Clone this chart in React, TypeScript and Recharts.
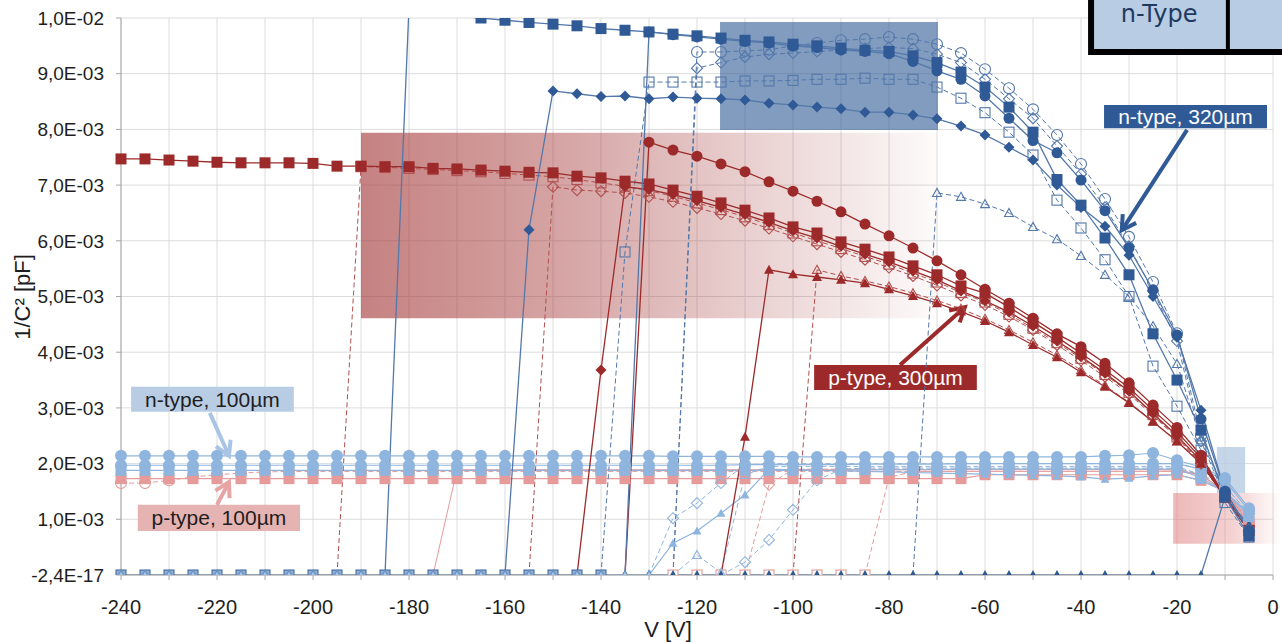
import React from 'react';
import { LineChart, Line, XAxis, YAxis, CartesianGrid, ReferenceArea, ReferenceLine } from 'recharts';

// ---------- categories / ticks ----------
const voltages = [-240, -235, -230, -225, -220, -215, -210, -205, -200, -195, -190, -185, -180, -175, -170, -165, -160, -155, -150, -145, -140, -135, -130, -125, -120, -115, -110, -105, -100, -95, -90, -85, -80, -75, -70, -65, -60, -55, -50, -45, -40, -35, -30, -25, -20, -15, -10, -5];
const xTicks = [-240, -230, -220, -210, -200, -190, -180, -170, -160, -150, -140, -130, -120, -110, -100, -90, -80, -70, -60, -50, -40, -30, -20, -10, 0];
const yTicks = [0, 0.001, 0.002, 0.003, 0.004, 0.005, 0.006, 0.007, 0.008, 0.009, 0.01];
const yTickLabels = ['-2,4E-17', '1,0E-03', '2,0E-03', '3,0E-03', '4,0E-03', '5,0E-03', '6,0E-03', '7,0E-03', '8,0E-03', '9,0E-03', '1,0E-02'];

// ---------- series values (each list ends at -5 V, aligned to the right of `voltages`) ----------
// n-type 320um
const n320SquaresA = [0, 0.0102, 0.01008, 0.01003, 0.0100, 0.00996, 0.00992, 0.00989, 0.00986, 0.00981, 0.00978, 0.00975, 0.00971, 0.00968, 0.00964, 0.0096, 0.00957, 0.00953, 0.0095, 0.00946, 0.00942, 0.0094, 0.00932, 0.0092, 0.00903, 0.00876, 0.0084, 0.00795, 0.0071, 0.00664, 0.00605, 0.00539, 0.00433, 0.0035, 0.0026, 0.0014, 0.0007];
const n320Diamonds = [0, 0.0062, 0.00869, 0.00864, 0.00859, 0.0086, 0.00855, 0.00858, 0.00856, 0.00855, 0.00853, 0.00847, 0.00844, 0.0084, 0.00837, 0.00831, 0.00831, 0.00826, 0.00819, 0.00806, 0.0079, 0.00768, 0.00745, 0.0070, 0.0066, 0.00626, 0.00574, 0.0050, 0.00427, 0.00296, 0.0015, 0.0008];
const n320Circles = [0, 0.00975, 0.0097, 0.00966, 0.00962, 0.00958, 0.00955, 0.0095, 0.00947, 0.00943, 0.0094, 0.00936, 0.00922, 0.00905, 0.0089, 0.0086, 0.0082, 0.0078, 0.00758, 0.00709, 0.00654, 0.00587, 0.00512, 0.00431, 0.0028, 0.0015, 0.0008];
const n320OpenCircles = [0, 0.00939, 0.00939, 0.00941, 0.00943, 0.0095, 0.00955, 0.0096, 0.00962, 0.00966, 0.00962, 0.00953, 0.00937, 0.00908, 0.00874, 0.00836, 0.0079, 0.00738, 0.00675, 0.00607, 0.00526, 0.00434, 0.0025, 0.0015, 0.0008];
const n320OpenDiamonds = [0, 0.0091, 0.0092, 0.0093, 0.00935, 0.00937, 0.0094, 0.00942, 0.00945, 0.00947, 0.00945, 0.00935, 0.0092, 0.0089, 0.00855, 0.0082, 0.0077, 0.0072, 0.0066, 0.0059, 0.0051, 0.0042, 0.0024, 0.0014, 0.0008];
const n320OpenSquares = [0, 0, 0, 0, 0, 0, 0, 0, 0, 0, 0, 0, 0, 0, 0, 0, 0, 0, 0, 0, 0, 0.0058, 0.00885, 0.00885, 0.00885, 0.00885, 0.00887, 0.00887, 0.00888, 0.0089, 0.0089, 0.00892, 0.0089, 0.0089, 0.00876, 0.00856, 0.0083, 0.00795, 0.00754, 0.00673, 0.00623, 0.00566, 0.005, 0.00375, 0.00303, 0.00224, 0.0013, 0.00068];
const n320OpenTriangles = [0, 0.00686, 0.00679, 0.00666, 0.0065, 0.00625, 0.00603, 0.00573, 0.00539, 0.005, 0.00447, 0.00379, 0.00242, 0.0015, 0.0008];
const n320Triangles = [0, 0, 0, 0, 0, 0, 0, 0, 0, 0, 0, 0, 0, 0, 0, 0, 0, 0, 0, 0, 0, 0, 0, 0, 0, 0, 0, 0, 0, 0, 0, 0, 0, 0, 0, 0, 0, 0, 0, 0, 0, 0, 0, 0, 0, 0, 0.0014, 0.0009];
// p-type 300um
const p300Squares = [0.00747, 0.00747, 0.00745, 0.00743, 0.00741, 0.0074, 0.0074, 0.0074, 0.00739, 0.00734, 0.00734, 0.00733, 0.00733, 0.0073, 0.00729, 0.00727, 0.00725, 0.00723, 0.00722, 0.00716, 0.00713, 0.00707, 0.00702, 0.00691, 0.0068, 0.00668, 0.00655, 0.00641, 0.00625, 0.00614, 0.00598, 0.00585, 0.00571, 0.00555, 0.00539, 0.00519, 0.00506, 0.00481, 0.00454, 0.00427, 0.00398, 0.00368, 0.00336, 0.00296, 0.00257, 0.0021, 0.0014, 0.0008];
const p300OpenSquares = [0, 0.00733, 0.00732, 0.0073, 0.00728, 0.00726, 0.00724, 0.00721, 0.00718, 0.00715, 0.0071, 0.00704, 0.00698, 0.0069, 0.0068, 0.00668, 0.00656, 0.00643, 0.00629, 0.00614, 0.006, 0.00586, 0.00572, 0.00558, 0.00542, 0.00526, 0.00507, 0.0049, 0.00468, 0.00443, 0.00417, 0.00389, 0.0036, 0.00328, 0.00288, 0.00248, 0.00202, 0.0014, 0.0008];
const p300OpenDiamonds = [0, 0.00697, 0.00691, 0.00689, 0.00686, 0.00679, 0.0067, 0.00659, 0.00648, 0.00636, 0.00622, 0.00608, 0.00594, 0.0058, 0.00566, 0.00552, 0.00537, 0.0052, 0.00502, 0.00485, 0.00464, 0.0044, 0.00413, 0.00385, 0.00356, 0.00325, 0.00286, 0.00246, 0.002, 0.0014, 0.00078];
const p300Diamonds = [0, 0.00368, 0.00697, 0.00692, 0.00683, 0.00672, 0.0066, 0.00647, 0.00633, 0.00618, 0.00605, 0.0059, 0.00576, 0.00562, 0.00546, 0.0053, 0.0051, 0.00492, 0.00472, 0.00447, 0.0042, 0.00392, 0.00362, 0.0033, 0.0029, 0.0025, 0.00205, 0.0014, 0.0008];
const p300Circles = [0, 0.00777, 0.00763, 0.00752, 0.00738, 0.00724, 0.00706, 0.00689, 0.00671, 0.00652, 0.0063, 0.00609, 0.00587, 0.00564, 0.00539, 0.00513, 0.00488, 0.00461, 0.00433, 0.0041, 0.0038, 0.00345, 0.00305, 0.00265, 0.00215, 0.0014, 0.0008];
const p300Triangles = [0, 0.00248, 0.00548, 0.0054, 0.00535, 0.0053, 0.00524, 0.00513, 0.00501, 0.00488, 0.00473, 0.00456, 0.00436, 0.00413, 0.00391, 0.00364, 0.00338, 0.00309, 0.00275, 0.0024, 0.002, 0.0014, 0.0008];
const p300OpenTriangles = [0, 0.00548, 0.00537, 0.00528, 0.00518, 0.00506, 0.00493, 0.00478, 0.0046, 0.0044, 0.00418, 0.00395, 0.00368, 0.0034, 0.0031, 0.00276, 0.0024, 0.002, 0.0014, 0.0008];
// n-type 100um
const n100CirclesA = [0.00214, 0.00214, 0.00214, 0.00214, 0.00214, 0.00214, 0.00214, 0.00214, 0.00214, 0.00214, 0.00214, 0.00214, 0.00214, 0.00214, 0.00214, 0.00214, 0.00214, 0.00214, 0.00214, 0.00214, 0.00214, 0.00214, 0.00214, 0.00213, 0.00213, 0.00213, 0.00213, 0.00213, 0.00212, 0.00212, 0.00212, 0.00212, 0.00212, 0.00212, 0.00212, 0.00212, 0.00212, 0.00212, 0.00212, 0.00212, 0.00212, 0.00214, 0.00215, 0.00219, 0.00206, 0.00194, 0.00174, 0.0012];
const n100CirclesB = [0.00197, 0.00197, 0.00197, 0.00197, 0.00197, 0.00197, 0.00197, 0.00197, 0.00197, 0.00197, 0.00197, 0.00197, 0.00197, 0.00197, 0.00197, 0.00197, 0.00197, 0.00197, 0.00197, 0.00197, 0.00197, 0.00197, 0.00197, 0.00197, 0.00197, 0.00197, 0.00198, 0.00198, 0.00198, 0.00198, 0.00198, 0.00199, 0.00199, 0.00199, 0.00199, 0.002, 0.002, 0.002, 0.002, 0.002, 0.002, 0.002, 0.002, 0.002, 0.002, 0.0019, 0.0017, 0.00115];
const n100Squares = [0.00188, 0.00188, 0.00188, 0.00188, 0.00188, 0.00188, 0.00188, 0.00188, 0.00188, 0.00188, 0.00188, 0.00188, 0.00188, 0.00188, 0.00188, 0.00188, 0.00188, 0.00188, 0.00188, 0.00188, 0.00188, 0.00188, 0.00188, 0.00188, 0.00188, 0.00188, 0.00188, 0.00188, 0.00188, 0.00188, 0.00188, 0.00189, 0.00189, 0.00189, 0.00189, 0.0019, 0.0019, 0.0019, 0.0019, 0.0019, 0.0019, 0.0019, 0.0019, 0.0019, 0.0019, 0.00175, 0.0015, 0.00105];
const n100Triangles = [0, 0, 0, 0, 0, 0, 0, 0, 0, 0, 0, 0, 0, 0, 0, 0, 0, 0, 0, 0, 0, 0, 0, 0.00057, 0.00079, 0.00111, 0.00144, 0.0019, 0.00189, 0.00188, 0.00187, 0.00186, 0.00185, 0.00184, 0.00183, 0.00182, 0.00181, 0.0018, 0.00179, 0.00178, 0.00176, 0.00172, 0.00174, 0.00178, 0.0018, 0.0017, 0.0015, 0.0011];
const n100OpenDiamondsA = [0, 0.00102, 0.00129, 0.00165, 0.00198, 0.002, 0.002, 0.002, 0.002, 0.002, 0.002, 0.002, 0.002, 0.002, 0.002, 0.002, 0.002, 0.002, 0.002, 0.002, 0.002, 0.002, 0.002, 0.0019, 0.0016, 0.0011];
const n100OpenTriangles = [0, 0.00036, 0.00004, 0.0018, 0.00195, 0.00195, 0.00195, 0.00195, 0.00195, 0.00195, 0.00195, 0.00195, 0.00195, 0.00195, 0.00195, 0.00195, 0.00195, 0.00195, 0.00195, 0.00195, 0.00195, 0.00195, 0.0018, 0.0016, 0.0011];
const n100OpenDiamondsB = [0, 0.00023, 0.00063, 0.00117, 0.0017, 0.0019, 0.00192, 0.00192, 0.00192, 0.00192, 0.00192, 0.00192, 0.00192, 0.00192, 0.00192, 0.00192, 0.00192, 0.00192, 0.00192, 0.00192, 0.0018, 0.0016, 0.0011];
// p-type 100um
const p100Squares = [0.00173, 0.00173, 0.00173, 0.00173, 0.00173, 0.00173, 0.00173, 0.00173, 0.00173, 0.00173, 0.00173, 0.00173, 0.00173, 0.00173, 0.00173, 0.00173, 0.00173, 0.00173, 0.00173, 0.00173, 0.00173, 0.00173, 0.00173, 0.00173, 0.00173, 0.00173, 0.00173, 0.00173, 0.00173, 0.00173, 0.00173, 0.00173, 0.00173, 0.00173, 0.00173, 0.00173, 0.0018, 0.0018, 0.0018, 0.0018, 0.0018, 0.0018, 0.0018, 0.0018, 0.0018, 0.0017, 0.0015, 0.00095];
const p100OpenCircles = [0.00165, 0.00165, 0.0017, 0.00176, 0.0018, 0.00183, 0.00185, 0.00186, 0.00186, 0.00186, 0.00186, 0.00186, 0.00186, 0.00186, 0.00186, 0.00186, 0.00186, 0.00186, 0.00186, 0.00186, 0.00186, 0.00186, 0.00186, 0.00186, 0.00186, 0.00186, 0.00186, 0.00186, 0.00186, 0.00186, 0.00186, 0.00186, 0.00186, 0.00186, 0.00186, 0.00186, 0.00186, 0.00186, 0.00186, 0.00186, 0.00186, 0.00186, 0.00186, 0.00186, 0.00186, 0.0018, 0.0015, 0.0009];
const p100Plain = [0, 0.00189, 0.00189, 0.00189, 0.00189, 0.00189, 0.00189, 0.00189, 0.00189, 0.00189, 0.00189, 0.00189, 0.00189, 0.00189, 0.00189, 0.00189, 0.00189, 0.00189, 0.00189, 0.00189, 0.00189, 0.00189, 0.00189, 0.00189, 0.00189, 0.00189, 0.00189, 0.00189, 0.00189, 0.00189, 0.00189, 0.00188, 0.0018, 0.0015, 0.001];
const p100OpenDiamonds = [0, 0.00162, 0.0019, 0.0019, 0.0019, 0.0019, 0.0019, 0.0019, 0.0019, 0.0019, 0.0019, 0.0019, 0.0019, 0.0019, 0.0019, 0.0019, 0.0019, 0.0019, 0.0019, 0.0018, 0.0015, 0.00095];
const p100OpenSquares = [0, 0, 0, 0, 0, 0, 0, 0, 0, 0.00175, 0.00186, 0.00186, 0.00186, 0.00186, 0.00186, 0.00186, 0.00186, 0.00186, 0.00186, 0.00186, 0.00186, 0.00186, 0.0018, 0.0015, 0.0009];

// ---------- styles ----------
const DB = '#2f5a96';
const DB_OPEN = '#5378aa';
const DR = '#9c2a2a';
const DR_OPEN = '#b24f4f';
const LB = '#8fb5de';
const PK = '#e69a9a';
const FONT = '"Liberation Sans", Arial, sans-serif';

type Shape = 'square' | 'circle' | 'diamond' | 'triangle' | 'none';
interface Series { key: string; values: number[]; color: string; lineColor: string; dashed: boolean; shape: Shape; filled: boolean; size: number; width: number; showZero: boolean; zeroFill?: string; zeroStroke?: string; }

const mk = (key: string, values: number[], color: string, lineColor: string, dashed: boolean, shape: Shape, filled: boolean, size: number, width: number, showZero = false, zeroFill?: string, zeroStroke?: string): Series =>
  ({ key, values, color, lineColor, dashed, shape, filled, size, width, showZero, zeroFill, zeroStroke });

const series: Series[] = [
  // p-type 100um
  mk('p100Plain', p100Plain, PK, PK, false, 'none', true, 0, 1),
  mk('p100OpenCircles', p100OpenCircles, PK, PK, true, 'circle', false, 11, 1),
  mk('p100OpenDiamonds', p100OpenDiamonds, PK, PK, true, 'diamond', false, 11, 1),
  mk('p100Squares', p100Squares, PK, PK, false, 'square', true, 11, 1.2),
  // n-type 320um zero-row base
  mk('n320OpenSquares', n320OpenSquares, DB_OPEN, DB_OPEN, true, 'square', false, 10, 1, true, '#8aaed8', '#4a6c9c'),
  mk('p100OpenSquares', p100OpenSquares, PK, PK, true, 'square', false, 10, 1, true, '#ffffff', '#e49a9a'),
  mk('n320Triangles', n320Triangles, DB, DB_OPEN, false, 'triangle', true, 10, 1.3, true),
  // n-type 100um
  mk('n100OpenDiamondsA', n100OpenDiamondsA, LB, LB, true, 'diamond', false, 11, 1),
  mk('n100OpenTriangles', n100OpenTriangles, LB, LB, true, 'triangle', false, 9, 1),
  mk('n100OpenDiamondsB', n100OpenDiamondsB, LB, LB, true, 'diamond', false, 11, 1),
  mk('n100Squares', n100Squares, LB, LB, false, 'square', true, 11, 1.2),
  mk('n100CirclesB', n100CirclesB, LB, LB, false, 'circle', true, 12, 1.2),
  mk('n100CirclesA', n100CirclesA, LB, LB, false, 'circle', true, 12, 1.2),
  mk('n100Triangles', n100Triangles, LB, LB, false, 'triangle', true, 9, 1.2, true, '#a7c6e8', '#6f93c0'),
  // p-type 300um
  mk('p300OpenSquares', p300OpenSquares, DR_OPEN, DR_OPEN, true, 'square', false, 10, 1),
  mk('p300OpenDiamonds', p300OpenDiamonds, DR_OPEN, DR_OPEN, true, 'diamond', false, 11, 1),
  mk('p300OpenTriangles', p300OpenTriangles, DR_OPEN, DR_OPEN, true, 'triangle', false, 9, 1),
  mk('p300Triangles', p300Triangles, DR, DR, false, 'triangle', true, 10, 1.3),
  mk('p300Diamonds', p300Diamonds, DR, DR, false, 'diamond', true, 11, 1.3),
  mk('p300Squares', p300Squares, DR, DR, false, 'square', true, 11, 1.3),
  mk('p300Circles', p300Circles, DR, DR, false, 'circle', true, 11, 1.3),
  // n-type 320um
  mk('n320OpenTriangles', n320OpenTriangles, DB_OPEN, DB_OPEN, true, 'triangle', false, 9, 1),
  mk('n320OpenDiamonds', n320OpenDiamonds, DB_OPEN, DB_OPEN, true, 'diamond', false, 11, 1),
  mk('n320OpenCircles', n320OpenCircles, DB_OPEN, DB_OPEN, true, 'circle', false, 11, 1),
  mk('n320Diamonds', n320Diamonds, DB, DB_OPEN, false, 'diamond', true, 11, 1.3),
  mk('n320Circles', n320Circles, DB, DB_OPEN, false, 'circle', true, 11, 1.3),
  mk('n320SquaresA', n320SquaresA, DB, DB_OPEN, false, 'square', true, 11, 1.3),
];

const rows = voltages.map((v, i) => {
  const row: Record<string, number> = { v };
  series.forEach((s) => {
    const off = voltages.length - s.values.length;
    if (i >= off) row[s.key] = s.values[i - off];
  });
  return row;
});

const makeDot = (s: Series) => (p: any) => {
  const { cx, cy, index, payload } = p;
  const val = payload ? payload[s.key] : undefined;
  const k = `${s.key}-${index}`;
  if (s.shape === 'none' || cx == null || cy == null || val == null || (val === 0 && !s.showZero) || val > 0.01) return <g key={k} />;
  const h = s.size / 2;
  const zero = val === 0;
  let fill = s.filled ? s.color : 'none';
  let stroke = s.color;
  let sw = s.filled ? 0 : 1.1;
  if (zero && s.zeroFill) { fill = s.zeroFill; stroke = s.zeroStroke || s.color; sw = 1.1; }
  if (s.shape === 'square') return <rect key={k} x={cx - h} y={cy - h} width={s.size} height={s.size} fill={fill} stroke={stroke} strokeWidth={sw} />;
  if (s.shape === 'circle') return <circle key={k} cx={cx} cy={cy} r={h} fill={fill} stroke={stroke} strokeWidth={sw} />;
  if (s.shape === 'diamond') return <polygon key={k} points={`${cx},${cy - h} ${cx + h},${cy} ${cx},${cy + h} ${cx - h},${cy}`} fill={fill} stroke={stroke} strokeWidth={sw} />;
  return <polygon key={k} points={`${cx},${cy - h} ${cx + h},${cy + h * 0.8} ${cx - h},${cy + h * 0.8}`} fill={fill} stroke={stroke} strokeWidth={sw} />;
};

const arrow = (color: string, width: number) => (p: any) => {
  const { x1, y1, x2, y2 } = p;
  if ([x1, y1, x2, y2].some((n) => n == null || Number.isNaN(n))) return <g />;
  const dx = x2 - x1;
  const dy = y2 - y1;
  const len = Math.hypot(dx, dy) || 1;
  const ux = dx / len;
  const uy = dy / len;
  const head = 14;
  const hw = 8;
  const bx = x2 - ux * head;
  const by = y2 - uy * head;
  return (
    <g>
      <line x1={x1} y1={y1} x2={x2 - ux * 2} y2={y2 - uy * 2} stroke={color} strokeWidth={width} />
      <polyline points={`${bx - uy * hw},${by + ux * hw} ${x2},${y2} ${bx + uy * hw},${by - ux * hw}`} fill="none" stroke={color} strokeWidth={width} />
    </g>
  );
};

const boxLabel = (text: string, color: string) => ({ value: text, position: 'center' as const, fill: color, fontSize: 21, fontFamily: FONT });

export default function App() {
  return (
    <div style={{ position: 'absolute', left: 0, top: 0, width: 1282, height: 642, background: '#fff', fontFamily: FONT }}>
      <LineChart width={1282} height={642} data={rows} margin={{ top: 18, right: 9, bottom: 0, left: 0 }}>
        <defs>
          <linearGradient id="redFade" x1="0" y1="0" x2="1" y2="0">
            <stop offset="0" stopColor="#a33535" stopOpacity={0.62} />
            <stop offset="0.35" stopColor="#a33535" stopOpacity={0.45} />
            <stop offset="1" stopColor="#a33535" stopOpacity={0.02} />
          </linearGradient>
          <linearGradient id="pinkFade" x1="0" y1="0" x2="1" y2="0">
            <stop offset="0" stopColor="#e07f7f" stopOpacity={0.55} />
            <stop offset="0.55" stopColor="#e07f7f" stopOpacity={0.35} />
            <stop offset="1" stopColor="#e07f7f" stopOpacity={0} />
          </linearGradient>
        </defs>
        <CartesianGrid stroke="#dcdcdc" strokeWidth={1} />
        <XAxis
          type="number"
          dataKey="v"
          domain={[-240, 0]}
          ticks={xTicks}
          interval={0}
          tickFormatter={(v: number) => (v % 20 === 0 ? String(v) : '')}
          stroke="#a6a6a6"
          tick={{ fill: '#1e1e1e', fontSize: 20 }}
          tickSize={5}
          tickMargin={20}
          height={67}
          label={{ content: () => <text x={668} y={629} textAnchor="middle" dominantBaseline="central" fontSize={22} fill="#1e1e1e" fontFamily={FONT}>V [V]</text> }}
        />
        <YAxis
          type="number"
          domain={[0, 0.01]}
          ticks={yTicks}
          interval={0}
          allowDataOverflow
          tickFormatter={(_v: number, i: number) => yTickLabels[i]}
          stroke="#a6a6a6"
          tick={{ fill: '#1e1e1e', fontSize: 19 }}
          tickSize={5}
          tickMargin={12}
          width={121}
          label={{ content: () => <text x={22} y={297} transform="rotate(-90, 22, 297)" textAnchor="middle" dominantBaseline="central" fontSize={22} fill="#1e1e1e" fontFamily={FONT}>1/C² [pF]</text> }}
        />

        <ReferenceArea x1={-190} x2={-70} y1={0.00461} y2={0.00794} fill="url(#redFade)" fillOpacity={1} stroke="none" ifOverflow="visible" />
        <ReferenceArea x1={-115.2} x2={-69.8} y1={0.00799} y2={0.00993} fill={DB} fillOpacity={0.6} stroke="none" ifOverflow="visible" />
        <ReferenceArea x1={-11.7} x2={-5.8} y1={0.00147} y2={0.0023} fill="#b8cce4" fillOpacity={0.8} stroke="none" ifOverflow="visible" />
        <ReferenceArea x1={-20.8} x2={1.9} y1={0.00056} y2={0.00147} fill="url(#pinkFade)" fillOpacity={1} stroke="none" ifOverflow="visible" />

        {series.map((s) => (
          <Line
            key={s.key}
            type="linear"
            dataKey={s.key}
            stroke={s.lineColor}
            strokeWidth={s.width}
            strokeDasharray={s.dashed ? '5 3' : undefined}
            dot={makeDot(s)}
            activeDot={false}
            connectNulls={false}
            isAnimationActive={false}
          />
        ))}

        <ReferenceArea x1={-35.2} x2={-1.25} y1={0.00802} y2={0.00844} fill={DB} fillOpacity={1} stroke="none" ifOverflow="visible" label={boxLabel('n-type, 320µm', '#ffffff')} />
        <ReferenceArea x1={-95.6} x2={-61.7} y1={0.00332} y2={0.00377} fill={DR} fillOpacity={1} stroke="none" ifOverflow="visible" label={boxLabel('p-type, 300µm', '#ffffff')} />
        <ReferenceArea x1={-237.9} x2={-204} y1={0.00293} y2={0.00338} fill="#b8cce4" fillOpacity={1} stroke="none" ifOverflow="visible" label={boxLabel('n-type, 100µm', '#1e1e1e')} />
        <ReferenceArea x1={-236.5} x2={-202.7} y1={0.00079} y2={0.00126} fill="#e6b3b3" fillOpacity={1} stroke="none" ifOverflow="visible" label={boxLabel('p-type, 100µm', '#1e1e1e')} />

        <ReferenceLine segment={[{ x: -17.9, y: 0.00799 }, { x: -31.5, y: 0.00619 }]} shape={arrow(DB, 4)} ifOverflow="visible" />
        <ReferenceLine segment={[{ x: -77.7, y: 0.00377 }, { x: -64.2, y: 0.00481 }]} shape={arrow(DR, 4)} ifOverflow="visible" />
        <ReferenceLine segment={[{ x: -221.5, y: 0.00291 }, { x: -217.5, y: 0.00214 }]} shape={arrow('#a9c4e4', 4)} ifOverflow="visible" />
        <ReferenceLine segment={[{ x: -220, y: 0.00126 }, { x: -217.5, y: 0.00167 }]} shape={arrow('#e6a4a4', 4)} ifOverflow="visible" />

        <ReferenceArea
          x1={-37.9}
          x2={3}
          y1={0.00939}
          y2={0.0106}
          fill="#b8cce4"
          fillOpacity={1}
          stroke="#000000"
          strokeWidth={6}
          ifOverflow="visible"
          label={{
            content: (p: any) => {
              const vb = p.viewBox || {};
              return (
                <text x={(vb.x || 0) + 68} y={(vb.y || 0) + (vb.height || 0) - 38} textAnchor="middle" dominantBaseline="central" fontSize={24} fill="#1f3a60" fontFamily='"DejaVu Sans", Verdana, sans-serif'>n-Type</text>
              );
            },
          }}
        />
        <ReferenceLine segment={[{ x: -9.4, y: 0.00939 }, { x: -9.4, y: 0.0106 }]} stroke="#000000" strokeWidth={4} ifOverflow="visible" />
      </LineChart>
    </div>
  );
}
